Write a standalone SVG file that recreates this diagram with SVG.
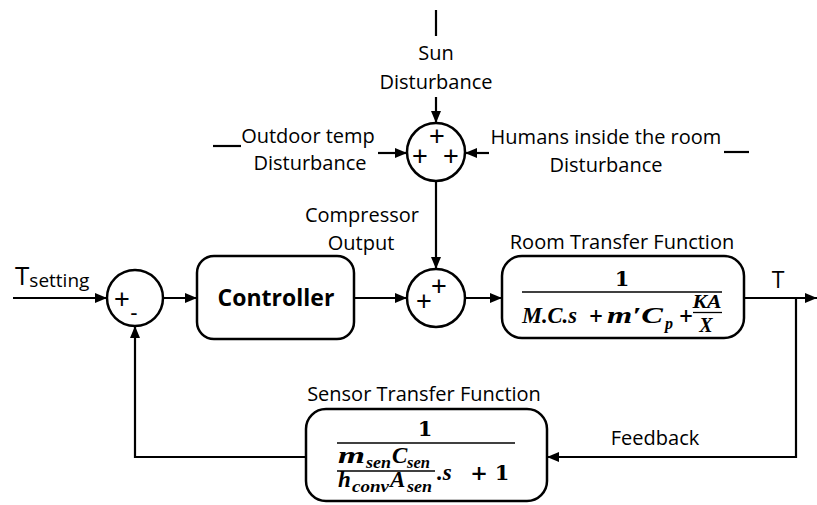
<svg xmlns="http://www.w3.org/2000/svg" width="817" height="505" viewBox="0 0 817 505">
<defs>
<marker id="ah" markerUnits="userSpaceOnUse" markerWidth="13" markerHeight="11" refX="12" refY="5" orient="auto">
<path d="M0,0 L12,5 L0,10 Z" fill="#000"/>
</marker>
<style>
.ln{fill:none;stroke:#000;stroke-width:2.2}
.ar{fill:none;stroke:#000;stroke-width:2.2;marker-end:url(#ah)}
.bx{fill:#fff;stroke:#000;stroke-width:2.5}
.t{font-family:"Open Sans","Liberation Sans",sans-serif;font-size:20px;fill:#000}
.c{text-anchor:middle}
.sg{font-family:"Liberation Sans",sans-serif;font-size:27px;fill:#000;text-anchor:middle}
.m{font-family:"Liberation Serif",serif;font-weight:bold;font-style:italic;font-size:23px;fill:#000}
.mu{font-family:"DejaVu Serif",serif;font-weight:bold;font-size:21px;fill:#000}
.ms{font-family:"Liberation Serif",serif;font-weight:bold;font-style:italic;font-size:16px;fill:#000}
</style>
</defs>

<g id="connectors">
<line class="ar" x1="13" y1="298" x2="107" y2="298"/>
<line class="ar" x1="163" y1="298" x2="197" y2="298"/>
<line class="ar" x1="354" y1="298" x2="407" y2="298"/>
<line class="ar" x1="465" y1="298" x2="502" y2="298"/>
<line class="ar" x1="744" y1="298" x2="817" y2="298"/>
<polyline class="ar" points="796,298 796,457 547,457"/>
<polyline class="ar" points="306,457 135,457 135,326"/>
<line class="ln" x1="436" y1="10" x2="436" y2="36"/>
<line class="ar" x1="436" y1="97" x2="436" y2="123"/>
<line class="ln" x1="213" y1="146" x2="241" y2="146"/>
<line class="ar" x1="378" y1="153" x2="407" y2="153"/>
<line class="ar" x1="489" y1="153" x2="465" y2="153"/>
<line class="ln" x1="724" y1="152" x2="749" y2="152"/>
<line class="ar" x1="436" y1="181" x2="436" y2="269"/>
</g>

<g id="tsetting">
<text class="t" x="15" y="285" style="font-size:26px">T<tspan style="font-size:19px" dy="2">setting</tspan></text>
</g>

<g id="sum1">
<circle class="bx" cx="135" cy="298" r="28"/>
<text class="sg" x="122" y="308">+</text>
<text class="sg" x="134" y="320" style="font-size:22px">-</text>
</g>

<g id="controller">
<rect class="bx" x="197" y="256" width="157" height="83" rx="17"/>
<text class="t c" x="276" y="306" style="font-size:23px;font-weight:bold">Controller</text>
</g>

<g id="sun">
<text class="t c" x="436" y="60">Sun</text>
<text class="t c" x="436" y="89">Disturbance</text>
</g>

<g id="outdoor">
<text class="t c" x="308" y="143">Outdoor temp</text>
<text class="t c" x="310" y="170">Disturbance</text>
</g>

<g id="humans">
<text class="t c" x="606" y="144">Humans inside the room</text>
<text class="t c" x="606" y="172">Disturbance</text>
</g>

<g id="sum-dist">
<circle class="bx" cx="436" cy="152" r="29"/>
<text class="sg" x="437" y="145">+</text>
<text class="sg" x="420" y="165">+</text>
<text class="sg" x="451" y="165">+</text>
</g>

<g id="compressor">
<text class="t c" x="362" y="222">Compressor</text>
<text class="t c" x="361" y="250">Output</text>
</g>

<g id="sum2">
<circle class="bx" cx="436" cy="298" r="29"/>
<text class="sg" x="439" y="295">+</text>
<text class="sg" x="424" y="310">+</text>
</g>

<g id="room">
<text class="t c" x="622" y="249">Room Transfer Function</text>
<rect class="bx" x="502" y="256" width="242" height="82" rx="20"/>
<text class="mu" x="622" y="286" text-anchor="middle">1</text>
<line class="ln" x1="522" y1="292" x2="722" y2="292" style="stroke-width:1.5"/>
<text class="m" x="522" y="323" textLength="55" lengthAdjust="spacingAndGlyphs">M.C.s</text>
<text class="mu" x="596" y="322" text-anchor="middle" style="font-size:18px">+</text>
<text class="m" x="607" y="323" textLength="56" lengthAdjust="spacingAndGlyphs">m′C</text>
<text class="ms" x="665" y="329">p</text>
<text class="mu" x="686" y="322" text-anchor="middle" style="font-size:18px">+</text>
<text class="m" x="707" y="308" text-anchor="middle" style="font-size:18px" textLength="29" lengthAdjust="spacingAndGlyphs">KA</text>
<line class="ln" x1="693" y1="312.5" x2="722" y2="312.5" style="stroke-width:1.3"/>
<text class="m" x="706" y="332" text-anchor="middle" style="font-size:20px">X</text>
</g>

<g id="output">
<text class="t c" x="778" y="288" style="font-size:23px">T</text>
</g>

<g id="feedback">
<text class="t c" x="655" y="445">Feedback</text>
</g>

<g id="sensor">
<text class="t c" x="424" y="401">Sensor Transfer Function</text>
<rect class="bx" x="306" y="409" width="241" height="92" rx="20"/>
<text class="mu" x="425" y="436" text-anchor="middle">1</text>
<line class="ln" x1="337" y1="443" x2="515" y2="443" style="stroke-width:1.5"/>
<text class="m" x="338" y="463" textLength="27" lengthAdjust="spacingAndGlyphs">m</text>
<text class="ms" x="366" y="468" textLength="25" lengthAdjust="spacingAndGlyphs">sen</text>
<text class="m" x="392" y="463">C</text>
<text class="ms" x="407" y="468" textLength="23" lengthAdjust="spacingAndGlyphs">sen</text>
<line class="ln" x1="337" y1="471" x2="435" y2="471" style="stroke-width:1.3"/>
<text class="m" x="338" y="487">h</text>
<text class="ms" x="352" y="492" textLength="37" lengthAdjust="spacingAndGlyphs">conv</text>
<text class="m" x="390" y="487">A</text>
<text class="ms" x="407" y="492" textLength="25" lengthAdjust="spacingAndGlyphs">sen</text>
<text class="m" x="437" y="480">.s</text>
<text class="mu" x="479" y="480" text-anchor="middle">+</text>
<text class="mu" x="502" y="480" text-anchor="middle">1</text>
</g>
</svg>
